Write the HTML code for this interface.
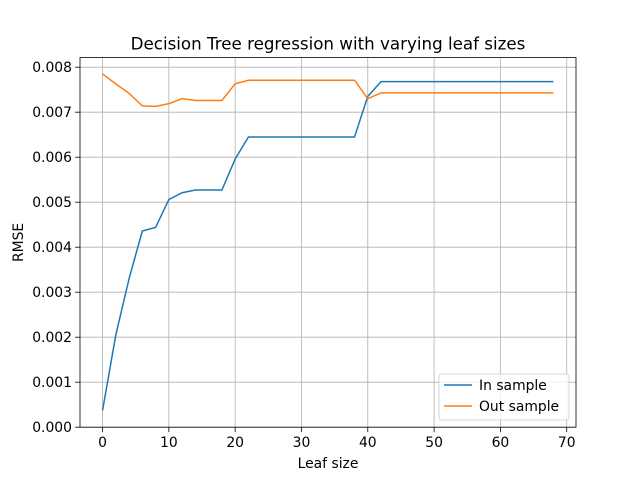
<!DOCTYPE html>
<html><head><meta charset="utf-8"><style>
body{margin:0;background:#fff}
svg{display:block;font-family:"DejaVu Sans","Liberation Sans",sans-serif}
</style></head><body>
<svg id="chart" width="640" height="480" xmlns="http://www.w3.org/2000/svg"></svg>
<script>
const leafSizes=[0,2,4,6,8,10,12,14,16,18,20,22,24,26,28,30,32,34,36,38,40,42,44,46,48,50,52,54,56,58,60,62,64,66,68];
const inSample=[0.00037,0.00205,0.0033,0.00436,0.00444,0.00506,0.00521,0.00527,0.00527,0.00527,0.00596,0.00645,0.00645,0.00645,0.00645,0.00645,0.00645,0.00645,0.00645,0.00645,0.00735,0.00768,0.00768,0.00768,0.00768,0.00768,0.00768,0.00768,0.00768,0.00768,0.00768,0.00768,0.00768,0.00768,0.00768];
const outSample=[0.00785,0.00763,0.00742,0.00714,0.00713,0.00719,0.0073,0.00726,0.00726,0.00726,0.00763,0.00771,0.00771,0.00771,0.00771,0.00771,0.00771,0.00771,0.00771,0.00771,0.0073,0.00743,0.00743,0.00743,0.00743,0.00743,0.00743,0.00743,0.00743,0.00743,0.00743,0.00743,0.00743,0.00743,0.00743];
const xTicks=[0,10,20,30,40,50,60,70];
const yTicks=[0,0.001,0.002,0.003,0.004,0.005,0.006,0.007,0.008];
const L=80,R=576,T=57.6,B=427.2,xmin=-3.4,xmax=71.4,ymin=0,ymax=0.008213;
const sx=v=>L+(v-xmin)/(xmax-xmin)*(R-L);
const sy=v=>B-(v-ymin)/(ymax-ymin)*(B-T);
const svg=document.getElementById('chart');
const NS='http://www.w3.org/2000/svg';
function mk(tag,attrs,txt){const e=document.createElementNS(NS,tag);for(const k in attrs)e.setAttribute(k,attrs[k]);if(txt!==undefined)e.textContent=txt;svg.appendChild(e);return e;}
xTicks.forEach(t=>{const x=sx(t);
const g=mk('line',{x1:x,x2:x,y1:T,y2:B,stroke:'#b0b0b0','stroke-width':0.8});


mk('line',{x1:x,x2:x,y1:B,y2:B+4.9,stroke:'#000','stroke-width':0.8});
const l=mk('text',{x:x,y:B+20,'font-size':13.9,'text-anchor':'middle'},t);

});
yTicks.forEach(t=>{const y=sy(t);
const g=mk('line',{x1:L,x2:R,y1:y,y2:y,stroke:'#b0b0b0','stroke-width':0.8});


mk('line',{x1:L-4.9,x2:L,y1:y,y2:y,stroke:'#000','stroke-width':0.8});
const l=mk('text',{x:L-8,y:y+5,'font-size':13.9,'text-anchor':'end'},t.toFixed(3));

});
function line(vals,color,name){const p=mk('polyline',{points:leafSizes.map((x,i)=>sx(x)+','+sy(vals[i])).join(' '),fill:'none',stroke:color,'stroke-width':1.5});

}
line(inSample,'#1f77b4','in-sample-line');
line(outSample,'#ff7f0e','out-sample-line');
const fr=mk('rect',{x:L,y:T,width:R-L,height:B-T,fill:'none',stroke:'#000','stroke-width':0.8});


const ti=mk('text',{x:(L+R)/2,y:T-8,'font-size':16.7,'text-anchor':'middle'},'Decision Tree regression with varying leaf sizes');


const xl=mk('text',{x:(L+R)/2,y:468,'font-size':13.9,'text-anchor':'middle'},'Leaf size');


const yl=mk('text',{x:23,y:(T+B)/2,'font-size':13.9,'text-anchor':'middle',transform:'rotate(-90 23 '+(T+B)/2+')'},'RMSE');


const lg=mk('rect',{x:439,y:374,width:130,height:46,rx:2,fill:'#fff','fill-opacity':0.8,stroke:'#ccc','stroke-width':0.8});


[['In sample','#1f77b4',385],['Out sample','#ff7f0e',406]].forEach(([n,c,y])=>{
mk('line',{x1:444,x2:472,y1:y,y2:y,stroke:c,'stroke-width':1.5});
const t=mk('text',{x:479,y:y+5,'font-size':13.9},n);

});
</script>
</body></html>
